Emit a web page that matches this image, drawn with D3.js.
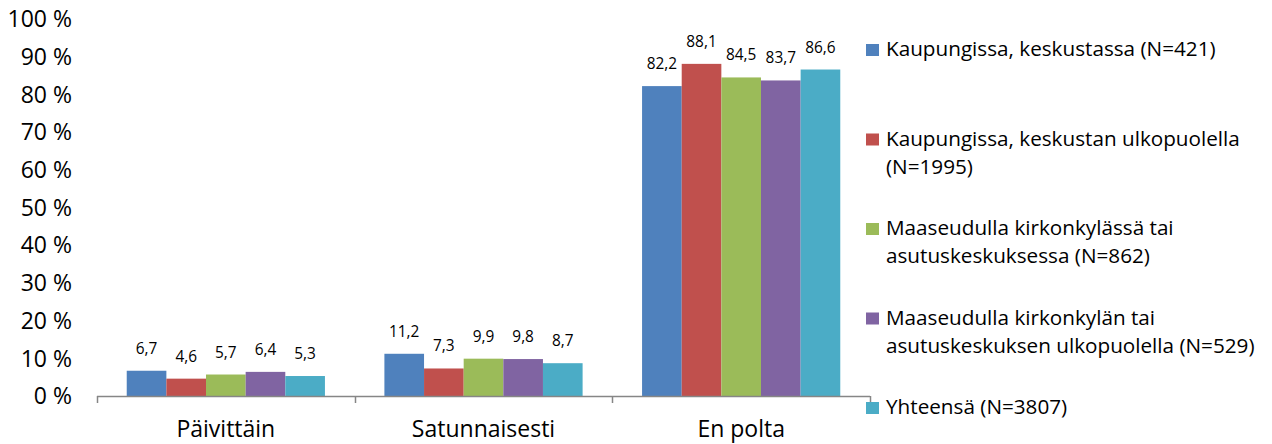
<!DOCTYPE html>
<html>
<head>
<meta charset="utf-8">
<script src="https://cdn.jsdelivr.net/npm/d3@7"></script>
<style>
  html, body { margin: 0; padding: 0; background: #fff; }
  svg { display: block; font-family: "Open Sans", "Noto Sans", sans-serif; }
</style>
</head>
<body>
<svg id="chart" width="1272" height="444"></svg>
<script>
// Tupakointi asuinpaikan mukaan (%)
const categories = ["Päivittäin", "Satunnaisesti", "En polta"];
const series = [
  "Kaupungissa, keskustassa (N=421)",
  "Kaupungissa, keskustan ulkopuolella (N=1995)",
  "Maaseudulla kirkonkylässä tai asutuskeskuksessa (N=862)",
  "Maaseudulla kirkonkylän tai asutuskeskuksen ulkopuolella (N=529)",
  "Yhteensä (N=3807)"
];
const legendLines = [
  ["Kaupungissa, keskustassa (N=421)"],
  ["Kaupungissa, keskustan ulkopuolella", "(N=1995)"],
  ["Maaseudulla kirkonkylässä tai", "asutuskeskuksessa (N=862)"],
  ["Maaseudulla kirkonkylän tai", "asutuskeskuksen ulkopuolella (N=529)"],
  ["Yhteensä (N=3807)"]
];
const colors = ["#4F81BD", "#C0504D", "#9BBB59", "#8064A2", "#4BACC6"];
const keskustassa   = [6.7, 11.2, 82.2];
const ulkopuolella  = [4.6, 7.3, 88.1];
const kirkonkylassa = [5.7, 9.9, 84.5];
const maaseutu      = [6.4, 9.8, 83.7];
const yhteensa      = [5.3, 8.7, 86.6];
const values = [keskustassa, ulkopuolella, kirkonkylassa, maaseutu, yhteensa];
const yTicks = [0, 10, 20, 30, 40, 50, 60, 70, 80, 90, 100];

const svg = d3.select("#chart");
const plotLeft = 97, plotRight = 870, plotTop = 19, plotBottom = 396;

const x0 = d3.scaleBand().domain(categories).range([plotLeft, plotRight]).paddingInner(0).paddingOuter(0);
const x1 = d3.scaleBand().domain(d3.range(series.length)).range([0, x0.bandwidth()])
  .paddingInner(0).paddingOuter(0.75);
const y = d3.scaleLinear().domain([0, 100]).range([plotBottom, plotTop]);

const fmt = v => d3.format(".1f")(v).replace(".", ",");

// Y axis labels (no axis line)
svg.append("g")
  .selectAll("text")
  .data(yTicks)
  .join("text")
  .attr("x", 72)
  .attr("y", d => y(d))
  .attr("dy", "0.36em")
  .attr("text-anchor", "end")
  .attr("font-size", 23)
  .attr("fill", "#000")
  .text(d => d + " %");

// Bars
const groups = svg.append("g")
  .selectAll("g")
  .data(categories)
  .join("g")
  .attr("transform", c => `translate(${x0(c)},0)`);

groups.selectAll("rect")
  .data((c, ci) => values.map((s, si) => ({ si, v: s[ci] })))
  .join("rect")
  .attr("x", d => x1(d.si))
  .attr("width", x1.bandwidth())
  .attr("y", d => y(d.v))
  .attr("height", d => y(0) - y(d.v))
  .attr("fill", d => colors[d.si]);

// Value labels
groups.selectAll("text")
  .data((c, ci) => values.map((s, si) => ({ si, v: s[ci] })))
  .join("text")
  .attr("x", d => x1(d.si) + x1.bandwidth() / 2)
  .attr("y", d => y(d.v) - 17)
  .attr("text-anchor", "middle")
  .attr("font-size", 15.4)
  .attr("fill", "#000")
  .text(d => fmt(d.v));

// X axis
const xAxis = svg.append("g");
xAxis.append("line")
  .attr("x1", plotLeft).attr("x2", plotRight)
  .attr("y1", plotBottom + 0.5).attr("y2", plotBottom + 0.5)
  .attr("stroke", "#868686").attr("stroke-width", 1.5);
const bounds = categories.map(c => x0(c)).concat([plotRight]);
xAxis.selectAll("line.tick")
  .data(bounds)
  .join("line")
  .attr("class", "tick")
  .attr("x1", d => Math.round(d) + 0.5).attr("x2", d => Math.round(d) + 0.5)
  .attr("y1", plotBottom).attr("y2", plotBottom + 7)
  .attr("stroke", "#868686").attr("stroke-width", 1.5);
xAxis.selectAll("text")
  .data(categories)
  .join("text")
  .attr("x", c => x0(c) + x0.bandwidth() / 2)
  .attr("y", 436.5)
  .attr("text-anchor", "middle")
  .attr("font-size", 23)
  .attr("fill", "#000")
  .text(c => c);

// Legend
const ly = d3.scalePoint().domain(d3.range(series.length)).range([56, 414]);
const legend = svg.append("g")
  .selectAll("g")
  .data(series)
  .join("g")
  .attr("transform", (s, i) => `translate(866,${ly(i)})`);
legend.append("rect")
  .attr("x", 0).attr("y", -12)
  .attr("width", 13).attr("height", 12)
  .attr("fill", (s, i) => colors[i]);
legend.append("text")
  .attr("font-size", 20.7)
  .attr("fill", "#000")
  .selectAll("tspan")
  .data((s, i) => legendLines[i])
  .join("tspan")
  .attr("x", 20)
  .attr("y", (l, j) => j * 28)
  .text(l => l);
</script>
</body>
</html>
